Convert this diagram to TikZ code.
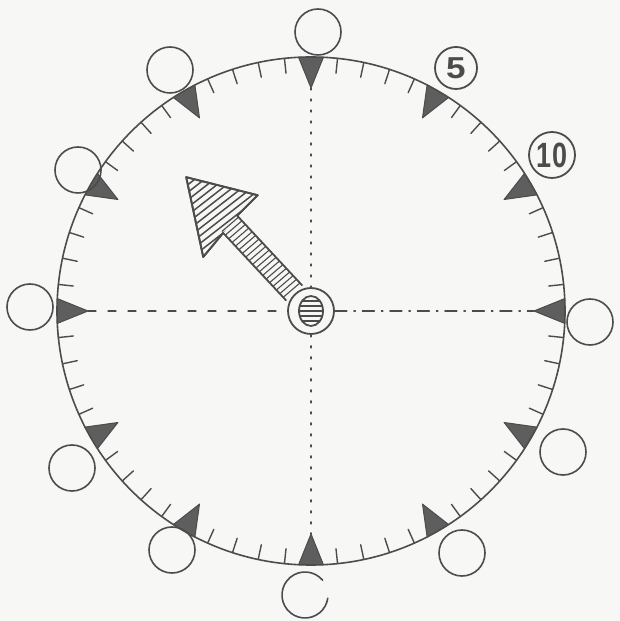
\documentclass[tikz,border=0pt]{standalone}
\usepackage{fontspec}
\setsansfont{Liberation Sans}
\definecolor{ink}{HTML}{4C4C4C}
\definecolor{fillg}{HTML}{5E5E5E}
\definecolor{paper}{HTML}{F7F7F5}
\tikzset{
  rim/.style={circle, draw=ink, line width=1.6pt, inner sep=0pt},
  bead/.style={circle, draw=ink, line width=1.6pt, minimum size=46pt, inner sep=0pt},
  numbead/.style={circle, draw=ink, line width=1.8pt, minimum size=42pt, inner sep=0pt, font=\sffamily\bfseries\fontsize{27}{27}\selectfont, text=ink},
  tickmark/.style={draw=ink, line width=1.4pt},
  pointer/.style={draw=ink, fill=fillg, line width=1pt, line join=round},
  axis/.style={draw=ink, line width=1.3pt},
  hatch/.style={draw=ink, line width=1.1pt}
}
\begin{document}
\begin{tikzpicture}[x=1pt,y=1pt,line cap=round]
\fill[paper] (0,0) rectangle (620,621);
\useasboundingbox (0,0) rectangle (620,621);
\coordinate (C) at (311,310);
\node[rim, minimum size=508pt] (dial) at (C) {};
% minute ticks
\foreach \h in {0,...,11}{
  \foreach \m in {1,2,3,4}{
    \pgfmathsetmacro{\a}{90-30*\h-6*\m}
    \draw[tickmark] ([shift={(\a:254)}]C) -- ([shift={(\a:239)}]C);
  }
}
% five-minute pointers
\foreach \h in {0,...,11}{
  \pgfmathsetmacro{\a}{90-30*\h}
  \pgfmathsetmacro{\al}{\a+2.8}
  \pgfmathsetmacro{\ar}{\a-2.8}
  \path[pointer] ([shift={(\al:254)}]C) -- ([shift={(\a:223)}]C) -- ([shift={(\ar:254)}]C) -- cycle;
  \coordinate (t\h) at ([shift={(\a:223)}]C);
}
% beads
\node[bead] (o0) at (318,589) {};
\node[numbead] (o1) at (456,553) {\scalebox{1.3}[1.12]{5}};
\node[numbead, minimum size=46pt] (o2) at (552,466) {\scalebox{1}[1.3]{10}};
\node[bead] (o3) at (590,299) {};
\node[bead] (o4) at (563,169) {};
\node[bead] (o5) at (462,68) {};
\node[bead, draw=none] (o6) at (305,26) {};
\draw[ink, line width=1.6pt] ([shift={(40:23)}]o6.center) arc[start angle=40, end angle=352, radius=23];
\node[bead] (o7) at (172,71) {};
\node[bead] (o8) at (72,153) {};
\node[bead] (o9) at (30,314) {};
\node[bead] (o10) at (78,451) {};
\node[bead] (o11) at (170,551) {};
% hub
\node[circle, draw=ink, line width=1.8pt, minimum size=46pt, inner sep=0pt] (hub) at (C) {};
% axes
\draw[axis, dash pattern=on 8pt off 12pt] (t9) -- (hub.west);
\draw[axis, dash pattern=on 12pt off 7pt on 1.5pt off 7pt] (hub.east) -- (t3);
\draw[axis, dash pattern=on 2pt off 9pt] (t0) -- (hub.north);
\draw[axis, dash pattern=on 2pt off 9pt] (hub.south) -- (t6);
% hatched inner disc
\begin{scope}
  \clip (C) ellipse[x radius=12, y radius=15];
  \foreach \k in {-15,-10,...,15}{
    \draw[hatch, line width=1.6pt] ([shift={(-14,\k)}]C) -- ([shift={(14,\k)}]C);
  }
\end{scope}
\draw[ink, line width=1.8pt] (C) ellipse[x radius=12, y radius=15];
% hand
\begin{scope}[shift={(C)}, rotate=133]
  \begin{scope}
    \clip (25,-11) rectangle (120,11);
    \foreach \s in {28,33,...,118}{
      \draw[hatch] (\s,-12) -- (\s+1,12);
    }
  \end{scope}
  \draw[ink, line width=1.8pt, line join=round] (25,-11) -- (120,-11) -- (121,-40) -- (183,0) -- (113,42) -- (117,11) -- (25,11);
  \begin{scope}
    \clip (120,-11) -- (121,-40) -- (183,0) -- (113,42) -- (117,11) -- cycle;
    \foreach \s in {110,116,...,180}{
      \draw[hatch, line width=1.5pt] (\s-4,-45) -- (\s+4,45);
    }
  \end{scope}
  \draw[ink, line width=1.8pt, line join=round] (120,-11) -- (121,-40) -- (183,0) -- (113,42) -- (117,11);
\end{scope}
\end{tikzpicture}
\end{document}
